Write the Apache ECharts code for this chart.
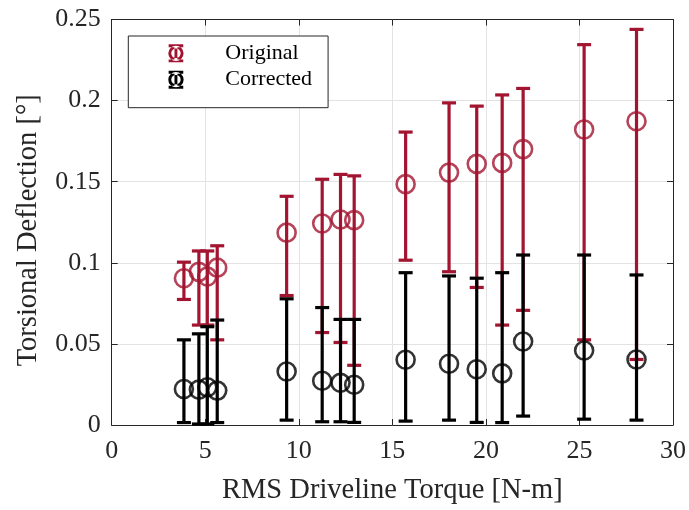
<!DOCTYPE html>
<html>
<head>
<meta charset="utf-8">
<script src="https://cdn.jsdelivr.net/npm/echarts@6/dist/echarts.min.js"></script>
<style>html,body{margin:0;padding:0;background:#fff;}#c{width:689px;height:510px;}</style>
</head>
<body>
<div id="c"></div>
<script>
// Data
const torque = [3.86, 4.66, 5.11, 5.64, 9.35, 11.25, 12.23, 12.96, 15.71, 18.03, 19.51, 20.87, 21.99, 25.25, 28.05];
const origMean  = [0.0905, 0.0944, 0.0915, 0.0970, 0.1186, 0.1242, 0.1267, 0.1263, 0.1485, 0.1556, 0.1610, 0.1616, 0.1701, 0.1822, 0.1873];
const origUpper = [0.1004, 0.1073, 0.1073, 0.1105, 0.1410, 0.1515, 0.1545, 0.1536, 0.1806, 0.1986, 0.1966, 0.2035, 0.2075, 0.2345, 0.2439];
const origLower = [0.0774, 0.0616, 0.0616, 0.0525, 0.0798, 0.0570, 0.0509, 0.0368, 0.1016, 0.0945, 0.0848, 0.0616, 0.0707, 0.0525, 0.0404];
const corrMean  = [0.0222, 0.0218, 0.0233, 0.0212, 0.0330, 0.0273, 0.0260, 0.0248, 0.0402, 0.0378, 0.0344, 0.0318, 0.0515, 0.0459, 0.0404];
const corrUpper = [0.0525, 0.0562, 0.0606, 0.0647, 0.0778, 0.0724, 0.0651, 0.0651, 0.0939, 0.0919, 0.0905, 0.0939, 0.1048, 0.1048, 0.0925];
const corrLower = [0.0015, 0.0006, 0.0006, 0.0015, 0.0030, 0.0020, 0.0020, 0.0016, 0.0024, 0.0030, 0.0016, 0.0015, 0.0055, 0.0036, 0.0030];
const seriesNames = ['Original', 'Corrected'];
const xTicks = [0, 5, 10, 15, 20, 25, 30];
const yTicks = [0, 0.05, 0.1, 0.15, 0.2, 0.25];

const RED = '#A2142F', BLACK = '#000000', AX = '#262626';
const FONT = '"Liberation Serif", "Times New Roman", serif';

const chart = echarts.init(document.getElementById('c'), null, {renderer: 'canvas'});

function errData(lo, hi) { return torque.map((x, i) => [x, lo[i], hi[i]]); }
function ptData(m) { return torque.map((x, i) => [x, m[i]]); }

function errRender(color) {
  return function (params, api) {
    const x = api.value(0);
    const pLo = api.coord([x, api.value(1)]);
    const pHi = api.coord([x, api.value(2)]);
    const hw = 7;
    const st = {stroke: color, lineWidth: 3.2};
    return {
      type: 'group',
      children: [
        {type: 'line', shape: {x1: pLo[0], y1: pLo[1], x2: pHi[0], y2: pHi[1]}, style: st},
        {type: 'line', shape: {x1: pLo[0] - hw, y1: pLo[1], x2: pLo[0] + hw, y2: pLo[1]}, style: st},
        {type: 'line', shape: {x1: pHi[0] - hw, y1: pHi[1], x2: pHi[0] + hw, y2: pHi[1]}, style: st}
      ]
    };
  };
}

// errorbar + open circle legend glyph (16x16 box)
const iconPath = 'path://M1.5 0 L14.5 0 L14.5 2.6 L9.3 2.6 L9.3 13.4 L14.5 13.4 L14.5 16 L1.5 16 L1.5 13.4 L6.7 13.4 L6.7 2.6 L1.5 2.6 Z ' +
  'M1.2 8 A6.8 6.8 0 1 0 14.8 8 A6.8 6.8 0 1 0 1.2 8 Z ' +
  'M3.8 8 A4.2 4.2 0 1 1 12.2 8 A4.2 4.2 0 1 1 3.8 8 Z';

function axisCommon() {
  return {
    axisLine: {show: true, onZero: false, lineStyle: {color: AX, width: 1}},
    axisTick: {show: true, inside: true, length: 6, lineStyle: {color: AX, width: 1}},
  };
}

const option = {
  animation: false,
  backgroundColor: '#fff',
  grid: {left: 111.7, right: 15.7, top: 19.5, bottom: 78.3, containLabel: false},
  legend: {
    orient: 'vertical',
    left: 128.3, top: 36,
    padding: [6.3, 16, 17, 40],
    itemWidth: 18, itemHeight: 18, itemGap: 4.4,
    backgroundColor: '#fff', borderColor: AX, borderWidth: 1,
    textStyle: {fontFamily: FONT, fontSize: 22, color: '#000', padding: [0, 0, 0, 35.4]},
    data: seriesNames.map(n => ({name: n, icon: iconPath})),
    selectedMode: false
  },
  xAxis: [
    Object.assign(axisCommon(), {
      type: 'value', min: 0, max: 30, interval: 5, position: 'bottom',
      name: 'RMS Driveline Torque [N-m]', nameLocation: 'middle', nameGap: 51,
      nameTextStyle: {fontFamily: FONT, fontSize: 28.5, color: AX},
      axisLabel: {fontFamily: FONT, fontSize: 26, color: AX, margin: 13,
        formatter: v => xTicks.includes(v) ? String(v) : ''},
      splitLine: {show: true, lineStyle: {color: '#e3e3e3', width: 1}}
    }),
    Object.assign(axisCommon(), {
      type: 'value', min: 0, max: 30, interval: 5, position: 'top',
      axisLabel: {show: false}, splitLine: {show: false}
    })
  ],
  yAxis: [
    Object.assign(axisCommon(), {
      type: 'value', min: 0, max: 0.25, interval: 0.05, position: 'left',
      name: 'Torsional Deflection [°]', nameLocation: 'middle', nameGap: 69,
      nameTextStyle: {fontFamily: FONT, fontSize: 28.5, color: AX, padding: [0, 16, 0, 0]},
      axisLabel: {fontFamily: FONT, fontSize: 26, color: AX, margin: 11,
        formatter: v => { const t = yTicks.find(y => Math.abs(y - v) < 1e-9); return t === undefined ? '' : String(t); }},
      splitLine: {show: true, lineStyle: {color: '#e3e3e3', width: 1}}
    }),
    Object.assign(axisCommon(), {
      type: 'value', min: 0, max: 0.25, interval: 0.05, position: 'right',
      axisLabel: {show: false}, splitLine: {show: false}
    })
  ],
  series: [
    {name: seriesNames[0], type: 'custom', color: RED, itemStyle: {color: RED},
     renderItem: errRender(RED), data: errData(origLower, origUpper), encode: {x: 0, y: [1, 2]}, z: 2},
    {name: seriesNames[0], type: 'scatter', color: RED, symbol: 'circle', symbolSize: 18,
     itemStyle: {color: 'rgba(0,0,0,0)', borderColor: RED, borderWidth: 2.6},
     data: ptData(origMean), z: 2},
    {name: seriesNames[1], type: 'custom', color: BLACK, itemStyle: {color: BLACK},
     renderItem: errRender(BLACK), data: errData(corrLower, corrUpper), encode: {x: 0, y: [1, 2]}, z: 3},
    {name: seriesNames[1], type: 'scatter', color: BLACK, symbol: 'circle', symbolSize: 18,
     itemStyle: {color: 'rgba(0,0,0,0)', borderColor: BLACK, borderWidth: 2.6},
     data: ptData(corrMean), z: 3}
  ]
};
chart.setOption(option);
</script>
</body>
</html>
